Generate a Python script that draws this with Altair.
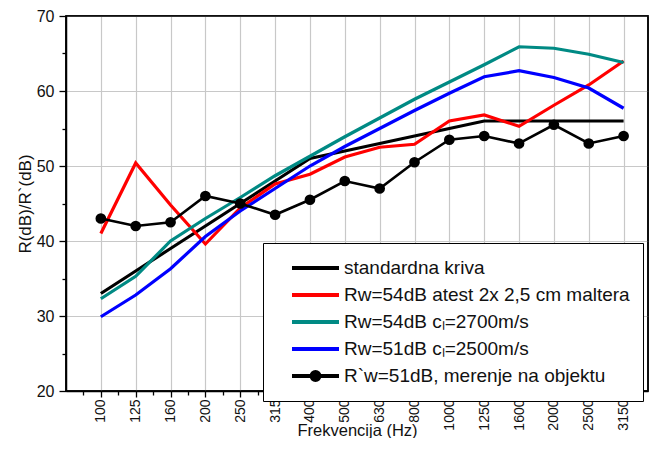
import json
import altair as alt
import pandas as pd

freqs = ["100", "125", "160", "200", "250", "315", "400", "500", "630", "800",
         "1000", "1250", "1600", "2000", "2500", "3150"]
series_names = ["\u00a0standardna kriva",
                "Rw=54dB atest 2x 2,5 cm maltera",
                "Rw=54dB c\u2097=2700m/s",
                "Rw=51dB c\u2097=2500m/s",
                "R`w=51dB, merenje na objektu"]
series_colors = ["#000000", "#ff0000", "#008a84", "#0000ff", "#000000"]

standard = [33, 36, 39, 42, 45, 48, 51, 52, 53, 54, 55, 56, 56, 56, 56, 56]
red = [41.0, 50.4, 44.8, 39.6, 44.4, 47.6, 48.9, 51.2, 52.5, 52.9, 56.0, 56.8, 55.3, 58.1, 60.8, 64.0]
teal = [32.3, 35.3, 40.0, 43.0, 45.8, 48.7, 51.3, 53.9, 56.4, 58.9, 61.2, 63.5, 65.9, 65.7, 64.9, 63.8]
blue = [29.9, 32.8, 36.3, 40.6, 44.0, 47.0, 50.0, 52.6, 55.0, 57.4, 59.7, 61.9, 62.7, 61.8, 60.4, 57.7]
measured = [43, 42, 42.5, 46, 45, 43.5, 45.5, 48, 47, 50.5, 53.5, 54, 53, 55.5, 53, 54]

x_domain = [-1, 15.7]
y_domain = [20, 70]

all_series = [standard, red, teal, blue, measured]
rows = []
for name, vals in zip(series_names, all_series):
    for i, (f, v) in enumerate(zip(freqs, vals)):
        rows.append({"idx": i, "freq": f, "value": v, "series": name})
df = pd.DataFrame(rows)
frame_df = pd.DataFrame([{"x0": x_domain[0], "x1": x_domain[1],
                          "y0": y_domain[0], "y1": y_domain[1]}])

FONT = "Liberation Sans"
label_expr = json.dumps(freqs) + "[datum.value]"


def circle(r):
    return f"M {r} 0 A {r} {r} 0 1 1 {-r} 0 A {r} {r} 0 1 1 {r} 0"


line_path = "M -2.35 0 L 2.35 0"
dot_path = line_path + " " + " ".join(circle(r) for r in [0.4, 0.3, 0.2, 0.1])
shape_range = [line_path, line_path, line_path, line_path, dot_path]

color_scale = alt.Scale(domain=series_names, range=series_colors)
xscale = alt.Scale(domain=x_domain, nice=False, zero=False)
yscale = alt.Scale(domain=y_domain)

legend_props = dict(title=None, orient="none", legendX=197, legendY=227,
                    fillColor="white", strokeColor="black",
                    padding=13, symbolOffset=27.5, symbolSize=400,
                    symbolStrokeWidth=4, symbolOpacity=1,
                    labelFontSize=19, labelFont=FONT, labelColor="#111",
                    labelOffset=16.5, labelLimit=420, rowPadding=5)

x_main = alt.X("idx:Q", scale=xscale,
               axis=alt.Axis(values=list(range(16)), labelExpr=label_expr, labelAngle=-90,
                             labelFontSize=14, labelColor="#111", labelPadding=2,
                             tickSize=6, tickColor="black", tickWidth=1.3,
                             domainColor="black", domainWidth=1.5,
                             grid=True, gridColor="#c8c8c8", gridWidth=1.2,
                             title="Frekvencija (Hz)", titleFontSize=16.5,
                             titleFontWeight="normal", titleColor="#111",
                             titleY=47, titleBaseline="bottom", orient="bottom"))
y_main = alt.Y("value:Q", scale=yscale,
               axis=alt.Axis(values=[20, 30, 40, 50, 60, 70], labelFontSize=16,
                             labelColor="#111", labelPadding=5,
                             tickSize=7, tickColor="black", tickWidth=1.3,
                             domainColor="black", domainWidth=1.5,
                             grid=True, gridColor="#c8c8c8", gridWidth=1.2,
                             title="R(dB)/R`(dB)", titleFontSize=17,
                             titleFontWeight="normal", titleColor="#111",
                             titlePadding=2, orient="left"))

frame = alt.Chart(frame_df).mark_rect(
    filled=False, stroke="black", strokeWidth=1.5
).encode(
    x=alt.X("x0:Q", scale=xscale, axis=None),
    x2="x1:Q",
    y=alt.Y("y0:Q", scale=yscale, axis=None),
    y2="y1:Q",
)

lines = alt.Chart(df).transform_filter(
    alt.datum.series != series_names[4]
).mark_line(strokeWidth=3.2).encode(
    x=x_main, y=y_main,
    color=alt.Color("series:N", scale=color_scale, legend=alt.Legend(**legend_props)),
    order="idx:Q",
)

meas_line = alt.Chart(df).transform_filter(
    alt.datum.series == series_names[4]
).mark_line(strokeWidth=2.6).encode(
    x=alt.X("idx:Q", scale=xscale, axis=None),
    y=alt.Y("value:Q", scale=yscale, axis=None),
    color=alt.Color("series:N", scale=color_scale, legend=alt.Legend(**legend_props)),
    order="idx:Q",
)

meas_pts = alt.Chart(df).transform_filter(
    alt.datum.series == series_names[4]
).mark_point(filled=True, size=115, opacity=1, color="black").encode(
    x=alt.X("idx:Q", scale=xscale, axis=None),
    y=alt.Y("value:Q", scale=yscale, axis=None),
)

legend_layer = alt.Chart(df).transform_filter(
    alt.datum.idx < 0
).mark_point(filled=False).encode(
    x=alt.X("idx:Q", scale=xscale,
            axis=alt.Axis(values=[i + 0.5 for i in range(-1, 16)], labels=False,
                          grid=False, domain=False, tickSize=4, tickColor="black",
                          tickWidth=1.3, title=None, orient="bottom")),
    y=alt.Y("value:Q", scale=yscale,
            axis=alt.Axis(values=[25, 35, 45, 55, 65], labels=False, grid=False,
                          domain=False, tickSize=4, tickColor="black",
                          tickWidth=1.3, title=None, orient="left")),
    color=alt.Color("series:N", scale=color_scale, legend=alt.Legend(**legend_props)),
    shape=alt.Shape("series:N", scale=alt.Scale(domain=series_names, range=shape_range),
                    legend=alt.Legend(**legend_props)),
)

chart = alt.layer(lines, meas_line, meas_pts, legend_layer, frame).resolve_axis(
    x="independent", y="independent"
).properties(
    width=582, height=375,
    autosize=alt.AutoSizeParams(type="none"),
    padding={"left": 58, "top": 8, "right": 8, "bottom": 47},
).configure(
    font=FONT, background="white"
).configure_view(
    stroke="black", strokeWidth=1.5
)

chart.save("out.html", embed_options={"renderer": "svg", "actions": False})
